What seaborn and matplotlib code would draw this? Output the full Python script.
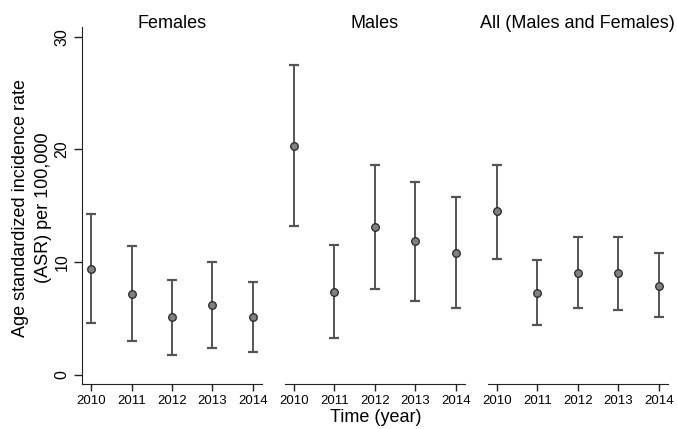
import pandas as pd
import numpy as np

import matplotlib
matplotlib.use("Agg")
import matplotlib.pyplot as plt
import seaborn as sns

# ==========================================
# DATA
# ==========================================

years = ["2010", "2011", "2012", "2013", "2014"]

groups = ["Females", "Males", "All (Males and Females)"]

female_asr = [9.4, 7.2, 5.1, 6.2, 5.1]
female_low = [4.6, 3.0, 1.8, 2.4, 2.0]
female_high = [14.3, 11.4, 8.4, 10.0, 8.25]

male_asr = [20.35, 7.4, 13.1, 11.9, 10.8]
male_low = [13.25, 3.3, 7.6, 6.6, 5.9]
male_high = [27.5, 11.5, 18.6, 17.1, 15.8]

all_asr = [14.5, 7.3, 9.0, 9.0, 7.9]
all_low = [10.3, 4.4, 5.9, 5.8, 5.1]
all_high = [18.65, 10.2, 12.25, 12.25, 10.8]

df = pd.DataFrame({
    'group': np.repeat(groups, len(years)),
    'year': years * 3,
    'asr': female_asr + male_asr + all_asr,
    'low': female_low + male_low + all_low,
    'high': female_high + male_high + all_high,
})

# ==========================================
# STYLE
# ==========================================

sns.set_style("ticks")
plt.rcParams['font.family'] = ['Liberation Sans', 'DejaVu Sans']
plt.rcParams['text.color'] = 'black'
plt.rcParams['axes.labelcolor'] = 'black'
plt.rcParams['xtick.color'] = '#222222'
plt.rcParams['ytick.color'] = '#222222'
plt.rcParams['xtick.labelcolor'] = 'black'
plt.rcParams['ytick.labelcolor'] = 'black'

W, H = 677, 429

fig = plt.figure(figsize=(W / 100, H / 100), dpi=100)

# panel edges in pixels (left, right)
panel_px = [(82, 262), (284.5, 465), (487.5, 668)]
top_px = 27
bottom_px = 384

# ==========================================
# PANELS
# ==========================================

for i, group in enumerate(groups):

    l, r = panel_px[i]
    ax = fig.add_axes([
        l / W,
        1 - bottom_px / H,
        (r - l) / W,
        (bottom_px - top_px) / H
    ])

    sub = df[df['group'] == group].reset_index(drop=True)
    x = np.arange(len(sub))

    eb = ax.errorbar(
        x,
        sub['asr'],
        yerr=[sub['asr'] - sub['low'], sub['high'] - sub['asr']],
        fmt='none',
        ecolor='#555555',
        elinewidth=1.4,
        capsize=3.8,
        capthick=1.6,
        zorder=1
    )

    # caps black
    for cap in eb.lines[1]:
        cap.set_color('#1a1a1a')

    sns.scatterplot(
        x=x,
        y=sub['asr'],
        ax=ax,
        s=30,
        color='#808080',
        edgecolor='#262626',
        linewidth=0.9,
        zorder=3
    )

    ax.set_xlim(-0.23, 4.23)
    ax.set_ylim(-0.8, 30.86)
    ax.set_xticks(x)
    ax.set_xticklabels(years, fontsize=9.5)

    ax.set_xlabel("")
    ax.set_ylabel("")

    ax.spines['top'].set_visible(False)
    ax.spines['right'].set_visible(False)
    ax.spines['bottom'].set_color('#222222')
    ax.spines['left'].set_color('#222222')

    ax.tick_params(axis='x', length=5, width=1, pad=3)

    if i == 0:
        ax.set_yticks([0, 10, 20, 30])
        ax.set_yticklabels(
            ["0", "10", "20", "30"],
            rotation=90,
            va='center',
            fontsize=11.5
        )
        ax.tick_params(axis='y', length=6, width=1, pad=3)
    else:
        ax.spines['left'].set_visible(False)
        ax.set_yticks([])

    # panel title
    fig.text(
        (l + r) / 2 / W,
        1 - 27.5 / H,
        group,
        ha='center',
        va='baseline',
        fontsize=13
    )

# ==========================================
# AXIS LABELS
# ==========================================

fig.text(
    32 / W,
    1 - 208 / H,
    "Age standardized incidence rate\n(ASR) per 100,000",
    rotation=90,
    ha='center',
    va='center',
    fontsize=13,
    linespacing=1.45
)

fig.text(376 / W, 1 - 417 / H, "Time (year)", ha='center', va='center', fontsize=13)

plt.savefig("out.png", dpi=100)

plt.close()
